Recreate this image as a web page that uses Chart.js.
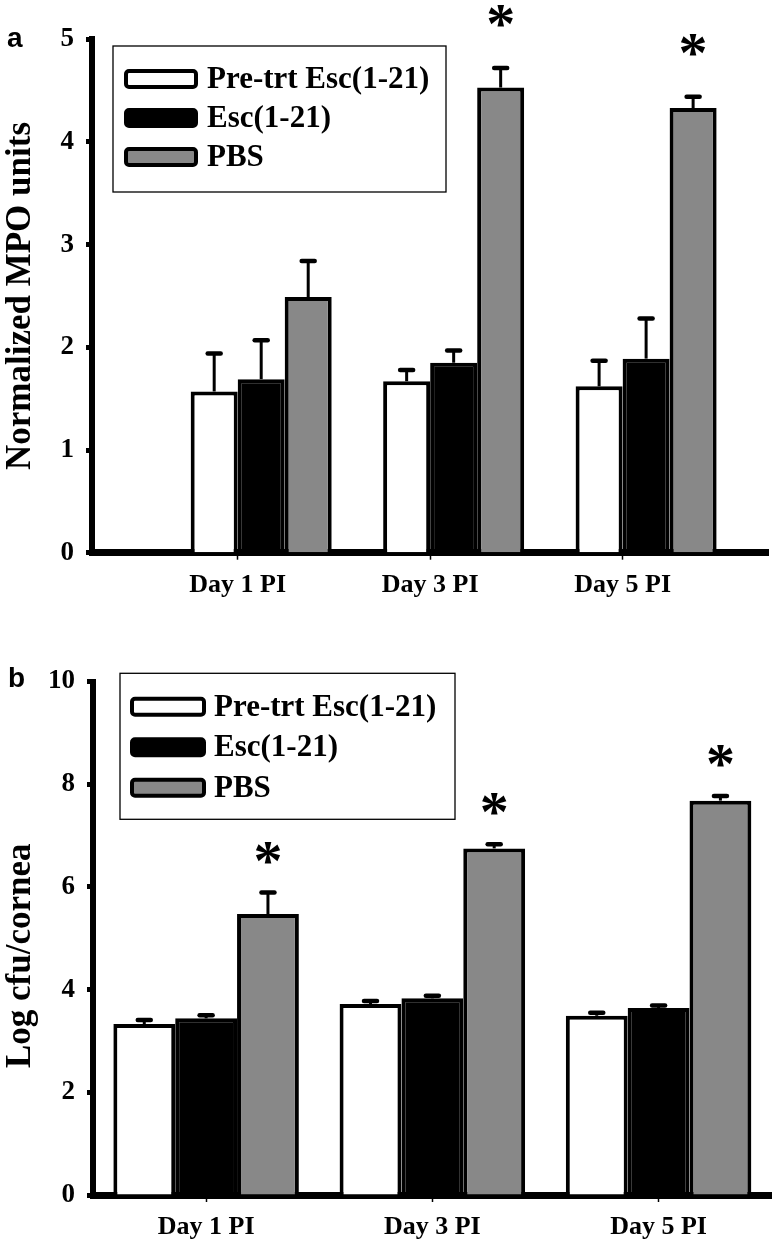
<!DOCTYPE html>
<html>
<head>
<meta charset="utf-8">
<script src="https://cdn.jsdelivr.net/npm/chart.js@4.4.1/dist/chart.umd.min.js"></script>
<style>
  html, body { margin: 0; padding: 0; background: #fff; }
  body { width: 774px; height: 1250px; position: relative; overflow: hidden; }
  .panel { position: absolute; left: 0; width: 774px; }
  #panel-a { top: 0; height: 625px; }
  #panel-b { top: 640px; height: 610px; }
</style>
</head>
<body>
<div class="panel" id="panel-a"><canvas id="chart-a" width="774" height="625"></canvas></div>
<div class="panel" id="panel-b"><canvas id="chart-b" width="774" height="610"></canvas></div>
<script>
const days = ['Day 1 PI', 'Day 3 PI', 'Day 5 PI'];
const seriesNames = ['Pre-trt Esc(1-21)', 'Esc(1-21)', 'PBS'];

// panel a - normalized MPO units
const mpoPretrt = [1.57, 1.67, 1.62];
const mpoEsc = [1.69, 1.85, 1.89];
const mpoPbs = [2.49, 4.53, 4.33];
const mpoPretrtErr = [0.37, 0.11, 0.25];
const mpoEscErr = [0.38, 0.12, 0.39];
const mpoPbsErr = [0.35, 0.19, 0.11];
const mpoStars = [false, true, true];
const mpoTicks = [0, 1, 2, 3, 4, 5];

// panel b - log cfu/cornea
const cfuPretrt = [3.33, 3.72, 3.49];
const cfuEsc = [3.44, 3.83, 3.64];
const cfuPbs = [5.47, 6.75, 7.68];
const cfuPretrtErr = [0.08, 0.06, 0.06];
const cfuEscErr = [0.06, 0.05, 0.05];
const cfuPbsErr = [0.42, 0.08, 0.09];
const cfuStars = [true, true, true];
const cfuTicks = [0, 2, 4, 6, 8, 10];

const SERIF = '"Liberation Serif", "Times New Roman", serif';
const SANS = '"Liberation Sans", Arial, sans-serif';
const fills = ['#ffffff', '#000000', '#888888'];

Chart.defaults.font.family = SERIF;
Chart.defaults.font.weight = 'bold';
Chart.defaults.color = '#000';

function points(vals) {
    return vals.map((v, i) => ({ x: i + 1, y: v }));
}

function makeDatasets(values, errors, spacer) {
    const sets = values.map((vals, k) => ({
        label: seriesNames[k],
        data: points(vals),
        errors: errors[k],
        backgroundColor: fills[k],
        borderColor: '#000',
        borderWidth: 4,
    }));
    // the MPO panel keeps an empty first slot in each group
    if (spacer) {
        sets.unshift({
            label: '',
            spacer: true,
            data: points(values[0].map(() => 0)),
            backgroundColor: 'rgba(0,0,0,0)',
            borderWidth: 0,
        });
    }
    return sets;
}

const errorBars = {
    id: 'errorBars',
    afterDatasetsDraw(chart, args, opts) {
        const ctx = chart.ctx;
        const yScale = chart.scales.y;
        const last = chart.data.datasets.length - 1;
        ctx.save();
        ctx.strokeStyle = '#000';
        chart.data.datasets.forEach((ds, k) => {
            if (!ds.errors) return;
            chart.getDatasetMeta(k).data.forEach((bar, i) => {
                const top = yScale.getPixelForValue(ds.data[i].y + ds.errors[i]);
                ctx.lineCap = 'butt';
                ctx.lineWidth = 3;
                ctx.beginPath();
                ctx.moveTo(bar.x, bar.y);
                ctx.lineTo(bar.x, top);
                ctx.stroke();
                ctx.lineCap = 'round';
                ctx.lineWidth = 4.5;
                ctx.beginPath();
                ctx.moveTo(bar.x - 6.5, top);
                ctx.lineTo(bar.x + 6.5, top);
                ctx.stroke();
                if (k === last && opts.stars[i]) {
                    ctx.font = 'bold 58px ' + SERIF;
                    ctx.fillStyle = '#000';
                    ctx.textAlign = 'center';
                    ctx.textBaseline = 'alphabetic';
                    const m = ctx.measureText('*');
                    const mid = (m.actualBoundingBoxAscent - m.actualBoundingBoxDescent) / 2;
                    ctx.fillText('*', bar.x, top - opts.starGap + mid);
                }
            });
        });
        ctx.restore();
    }
};

const boxLegend = {
    id: 'boxLegend',
    afterDatasetsDraw(chart, args, opts) {
        const ctx = chart.ctx;
        ctx.save();
        ctx.fillStyle = '#fff';
        ctx.fillRect(opts.left, opts.top, opts.width, opts.height);
        ctx.strokeStyle = '#000';
        ctx.lineWidth = 1.3;
        ctx.strokeRect(opts.left, opts.top, opts.width, opts.height);
        const items = chart.data.datasets.filter(ds => !ds.spacer);
        items.forEach((ds, i) => {
            const cy = opts.top + opts.firstRow + i * opts.rowGap;
            const sx = opts.left + opts.symLeft;
            ctx.beginPath();
            ctx.roundRect(sx, cy - 8, opts.symWidth, 16, 3);
            ctx.fillStyle = ds.backgroundColor;
            ctx.fill();
            ctx.lineWidth = 4;
            ctx.strokeStyle = '#000';
            ctx.stroke();
            ctx.fillStyle = '#000';
            ctx.font = 'bold 31px ' + SERIF;
            ctx.textAlign = 'left';
            ctx.textBaseline = 'middle';
            ctx.fillText(ds.label, opts.left + opts.textLeft, cy + 1);
        });
        ctx.restore();
    }
};

const panelLetter = {
    id: 'panelLetter',
    afterDraw(chart, args, opts) {
        const ctx = chart.ctx;
        ctx.save();
        ctx.font = 'bold 28px ' + SANS;
        ctx.fillStyle = '#000';
        ctx.textAlign = 'left';
        ctx.textBaseline = 'alphabetic';
        ctx.fillText(opts.text, opts.x, opts.y);
        ctx.restore();
    }
};

function makeChart(id, cfg) {
    const canvasH = document.getElementById(id).height;
    return new Chart(document.getElementById(id), {
        type: 'bar',
        data: { datasets: makeDatasets(cfg.values, cfg.errors, cfg.spacer) },
        options: {
            responsive: false,
            animation: false,
            categoryPercentage: cfg.catPct,
            barPercentage: 1,
            layout: { padding: { top: cfg.top, right: cfg.right, bottom: 0, left: 0 } },
            plugins: {
                legend: { display: false },
                tooltip: { enabled: false },
                errorBars: { stars: cfg.stars, starGap: cfg.starGap },
                boxLegend: cfg.legend,
                panelLetter: cfg.letter,
            },
            scales: {
                x: {
                    type: 'linear',
                    min: cfg.xMin,
                    max: cfg.xMax,
                    offset: false,
                    z: 1,
                    afterBuildTicks: (scale) => {
                        scale.ticks = days.map((d, i) => ({ value: i + 1 }));
                    },
                    afterFit: (scale) => { scale.height = canvasH - cfg.bottom; },
                    ticks: {
                        callback: (v) => days[v - 1],
                        font: { size: 26, weight: 'bold' },
                        padding: 10,
                        maxRotation: 0,
                    },
                    grid: {
                        offset: false,
                        drawOnChartArea: false,
                        tickLength: 7,
                        tickWidth: 1.5,
                        tickColor: '#000',
                    },
                    border: { color: '#000', width: 7 },
                },
                y: {
                    min: 0,
                    max: cfg.yTicks[cfg.yTicks.length - 1],
                    afterBuildTicks: (scale) => {
                        scale.ticks = cfg.yTicks.map(v => ({ value: v }));
                    },
                    afterFit: (scale) => { scale.width = cfg.axisX; },
                    ticks: {
                        font: { size: 27, weight: 'bold' },
                        padding: 12,
                    },
                    grid: {
                        drawOnChartArea: false,
                        tickLength: 6,
                        tickWidth: 5,
                        tickColor: '#000',
                    },
                    border: { color: '#000', width: 6 },
                    title: {
                        display: true,
                        text: cfg.yTitle,
                        font: { size: 35, weight: 'bold' },
                        padding: { top: 0, bottom: 0 },
                    },
                },
            },
        },
        plugins: [errorBars, boxLegend, panelLetter],
    });
}

makeChart('chart-a', {
    values: [mpoPretrt, mpoEsc, mpoPbs],
    errors: [mpoPretrtErr, mpoEscErr, mpoPbsErr],
    spacer: true,
    stars: mpoStars,
    starGap: 52,
    yTicks: mpoTicks,
    yTitle: 'Normalized MPO units',
    catPct: 0.977,
    xMin: 0.243,
    xMax: 3.757,
    top: 39.3,
    bottom: 552.7,
    right: 5.7,
    axisX: 92,
    legend: { left: 113, top: 46, width: 333, height: 146, firstRow: 33, rowGap: 39, symLeft: 13, symWidth: 70, textLeft: 94 },
    letter: { text: 'a', x: 7, y: 47 },
});

makeChart('chart-b', {
    values: [cfuPretrt, cfuEsc, cfuPbs],
    errors: [cfuPretrtErr, cfuEscErr, cfuPbsErr],
    spacer: false,
    stars: cfuStars,
    starGap: 40,
    yTicks: cfuTicks,
    // trailing spaces push the rotated title a little lower, as in the figure
    yTitle: 'Log cfu/cornea    ',
    catPct: 0.82,
    xMin: 0.5,
    xMax: 3.5,
    top: 41.5,
    bottom: 555,
    right: 2.3,
    axisX: 93,
    legend: { left: 120, top: 33.3, width: 335, height: 146, firstRow: 33.4, rowGap: 40.5, symLeft: 12, symWidth: 72, textLeft: 94 },
    letter: { text: 'b', x: 8, y: 47 },
});
</script>
</body>
</html>
